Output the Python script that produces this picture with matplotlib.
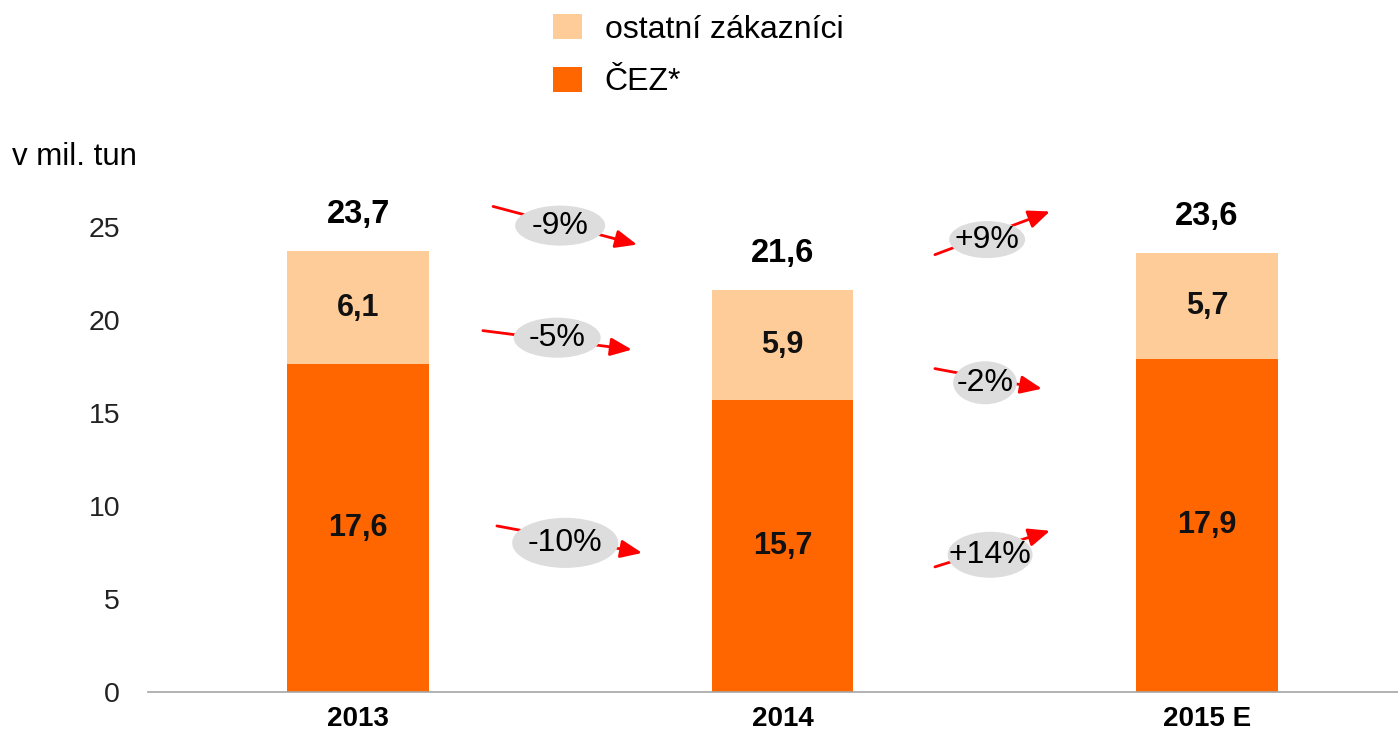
import matplotlib
matplotlib.use("Agg")
import matplotlib.pyplot as plt
from matplotlib.patches import Patch, Ellipse

plt.rcParams['font.family'] = ['Liberation Sans', 'DejaVu Sans']

categories = ["2013", "2014", "2015 E"]
cez = [17.6, 15.7, 17.9]
ostatni = [6.1, 5.9, 5.7]
totals = [23.7, 21.6, 23.6]
cez_labels = ["17,6", "15,7", "17,9"]
ostatni_labels = ["6,1", "5,9", "5,7"]
total_labels = ["23,7", "21,6", "23,6"]
series_names = ["ostatní zákazníci", "ČEZ*"]
yticks = [0, 5, 10, 15, 20, 25]
unit_label = "v mil. tun"
change_labels = ["-9%", "-5%", "-10%", "+9%", "-2%", "+14%"]

# layout of the change annotations (data coords): arrow start, arrow end, ellipse centre, ellipse size
change_layout = [
    ((0.318, 26.08), (0.657, 24.03), (0.476, 25.05), (0.212, 2.15)),
    ((0.294, 19.41), (0.645, 18.39), (0.469, 19.03), (0.205, 2.15)),
    ((0.327, 8.92), (0.669, 7.47), (0.488, 8.01), (0.250, 2.69)),
    ((1.359, 23.49), (1.630, 25.81), (1.482, 24.30), (0.179, 1.99)),
    ((1.359, 17.37), (1.611, 16.29), (1.477, 16.61), (0.150, 2.31)),
    ((1.359, 6.72), (1.630, 8.66), (1.489, 7.37), (0.200, 2.47)),
]

C_LIGHT = "#FECC99"
C_DARK = "#FF6600"

fig = plt.figure(figsize=(13.98, 7.3), dpi=100)
ax = fig.add_axes([148 / 1398, 1 - 692 / 730, 1 - 148 / 1398, (692 - 180) / 730])

x = list(range(len(categories)))
w = 0.334
ax.bar(x, cez, width=w, color=C_DARK, zorder=2)
ax.bar(x, ostatni, width=w, bottom=cez, color=C_LIGHT, zorder=2)

for i in x:
    ax.text(i, cez[i] / 2, cez_labels[i], ha="center", va="center",
            fontsize=22, fontweight="bold", color="#111111", zorder=3)
    ax.text(i, cez[i] + ostatni[i] / 2, ostatni_labels[i], ha="center", va="center",
            fontsize=22, fontweight="bold", color="#111111", zorder=3)
    ax.annotate(total_labels[i], (i, totals[i]), xytext=(0, 26), textcoords="offset points",
                ha="center", va="center", fontsize=23.5, fontweight="bold", color="black")

for lab, (p0, p1, pc, sz) in zip(change_labels, change_layout):
    ax.annotate("", xy=p1, xytext=p0,
                arrowprops=dict(arrowstyle="-|>,head_length=1.3,head_width=0.55",
                                color="#FF0000", lw=2, shrinkA=0, shrinkB=0), zorder=4)
    ax.add_patch(Ellipse(pc, sz[0], sz[1], facecolor="#DDDDDD", edgecolor="none", zorder=5))
    ax.text(pc[0], pc[1], lab, ha="center", va="center", fontsize=23, color="black", zorder=6)

ax.set_xlim(-0.495, 2.45)
ax.set_ylim(0, 27.5)
ax.set_yticks(yticks)
ax.set_yticklabels([str(t) for t in yticks], fontsize=20.5, color="#222222")
ax.set_xticks(x)
ax.set_xticklabels(categories, fontsize=20, fontweight="bold")
ax.tick_params(axis="y", length=0, pad=20)
ax.tick_params(axis="x", length=0, pad=10)
for s in ["top", "right", "left"]:
    ax.spines[s].set_visible(False)
ax.spines["bottom"].set_color("#A6A6A6")
ax.spines["bottom"].set_linewidth(1.2)

fig.text(12 / 1398, 1 - 157 / 730, unit_label, fontsize=22.5, ha="left", va="center")

handles = [Patch(facecolor=C_LIGHT, edgecolor="none"), Patch(facecolor=C_DARK, edgecolor="none")]
fig.legend(handles, series_names, loc="upper left", bbox_to_anchor=(553 / 1398, 1 - 14 / 730),
           frameon=False, fontsize=23, handlelength=0.9, handleheight=0.85,
           handletextpad=0.72, labelspacing=0.68, borderaxespad=0, borderpad=0)

fig.savefig("out.png", dpi=100)
